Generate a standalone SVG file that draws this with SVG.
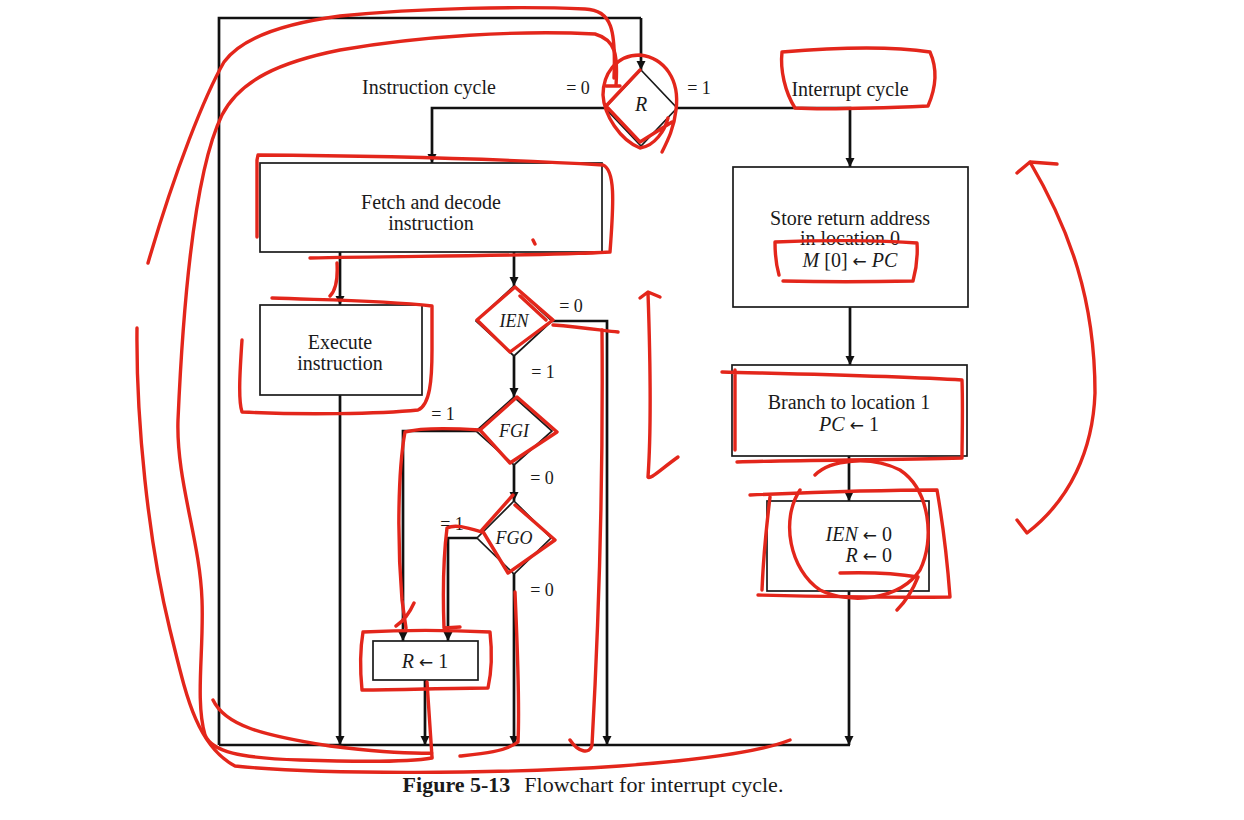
<svg xmlns="http://www.w3.org/2000/svg" width="1244" height="820" viewBox="0 0 1244 820">
<defs>
<marker id="ah" viewBox="0 0 10 10" refX="10" refY="5" markerWidth="9" markerHeight="10" markerUnits="userSpaceOnUse" orient="auto">
<path d="M0,0 L10,5 L0,10 Z" fill="#111"/>
</marker>
<style>
.t{font-family:"Liberation Serif","DejaVu Serif",serif;font-size:20px;fill:#1a1a1a;text-anchor:middle}
.s{font-size:18px}
.i{font-style:italic}
.a{font-family:"DejaVu Sans",sans-serif;font-size:17px}
.box{fill:none;stroke:#1a1a1a;stroke-width:1.7}
.ln{fill:none;stroke:#111;stroke-width:2.7}
.arr{fill:none;stroke:#111;stroke-width:2.7;marker-end:url(#ah)}
.ink{fill:none;stroke:#e3261b;stroke-width:3.4;stroke-linecap:round;stroke-linejoin:round}
</style>
</defs>
<rect width="1244" height="820" fill="#fff"/>

<g id="connectors">
<path class="ln" d="M219,745 L219,18 L641,18"/>
<path class="arr" d="M641,18 L641,70"/>
<path class="arr" d="M605,108 L432,108 L432,163"/>
<path class="arr" d="M677,108 L850,108 L850,167"/>
<path class="arr" d="M850,307 L850,365"/>
<path class="arr" d="M849,456 L849,501"/>
<path class="arr" d="M849,591 L849,745"/>
<path class="arr" d="M340,252 L340,305"/>
<path class="arr" d="M340,395 L340,745"/>
<path class="arr" d="M514,252 L514,286"/>
<path class="arr" d="M552,321 L607,321 L607,745"/>
<path class="arr" d="M514,356 L514,397"/>
<path class="arr" d="M476,431 L403,431 L403,641"/>
<path class="arr" d="M514,465 L514,501"/>
<path class="arr" d="M477,538 L448,538 L448,641"/>
<path class="arr" d="M514,573 L514,745"/>
<path class="arr" d="M425,680 L425,745"/>
<path class="ln" d="M219,745 L850,745"/>
<text class="t s" x="578" y="94">= 0</text>
<text class="t s" x="699" y="94">= 1</text>
<text class="t s" x="571" y="312">= 0</text>
<text class="t s" x="543" y="378">= 1</text>
<text class="t s" x="443" y="420">= 1</text>
<text class="t s" x="542" y="484">= 0</text>
<text class="t s" x="452" y="530">= 1</text>
<text class="t s" x="542" y="596">= 0</text>
</g>

<g id="label-instruction"><text class="t" x="429" y="94">Instruction cycle</text></g>
<g id="label-interrupt"><text class="t" x="850" y="96">Interrupt cycle</text></g>

<g id="node-R">
<path class="box" d="M641,70 L677,108 L641,146 L605,108 Z"/>
<text class="t i" x="641" y="111">R</text>
</g>

<g id="node-fetch">
<rect class="box" x="260" y="163" width="342" height="89"/>
<text class="t" x="431" y="209">Fetch and decode</text>
<text class="t" x="431" y="230">instruction</text>
</g>

<g id="node-execute">
<rect class="box" x="260" y="305" width="162" height="90"/>
<text class="t" x="340" y="349">Execute</text>
<text class="t" x="340" y="370">instruction</text>
</g>

<g id="node-IEN">
<path class="box" d="M514,286 L552,321 L514,356 L476,321 Z"/>
<text class="t i s" x="514" y="327">IEN</text>
</g>

<g id="node-FGI">
<path class="box" d="M514,397 L552,431 L514,465 L476,431 Z"/>
<text class="t i s" x="514" y="437">FGI</text>
</g>

<g id="node-FGO">
<path class="box" d="M514,501 L551,538 L514,574 L477,538 Z"/>
<text class="t i s" x="514" y="544">FGO</text>
</g>

<g id="node-R1">
<rect class="box" x="373" y="641" width="105" height="39"/>
<text class="t" x="425" y="668"><tspan class="i">R</tspan> <tspan class="a">←</tspan> 1</text>
</g>

<g id="node-store">
<rect class="box" x="733" y="167" width="235" height="140"/>
<text class="t" x="850" y="225">Store return address</text>
<text class="t" x="850" y="245">in location 0</text>
<text class="t" x="850" y="267"><tspan class="i">M</tspan> [0] <tspan class="a">←</tspan> <tspan class="i">PC</tspan></text>
</g>

<g id="node-branch">
<rect class="box" x="732" y="365" width="235" height="91"/>
<text class="t" x="849" y="409">Branch to location 1</text>
<text class="t" x="849" y="431"><tspan class="i">PC</tspan> <tspan class="a">←</tspan> 1</text>
</g>

<g id="node-clear">
<rect class="box" x="767" y="501" width="162" height="90"/>
<text class="t" x="892" y="541" style="text-anchor:end"><tspan class="i">IEN</tspan> <tspan class="a">←</tspan> 0</text>
<text class="t" x="892" y="562" style="text-anchor:end"><tspan class="i">R</tspan> <tspan class="a">←</tspan> 0</text>
</g>

<g id="caption">
<text class="t" x="593" y="792" style="font-size:22px"><tspan style="font-weight:bold">Figure 5-13</tspan><tspan dx="14">Flowchart for interrupt cycle.</tspan></text>
</g>

<g id="annotations">
<path class="ink" d="M614,78 C616,30 612,10 585,9 C520,6 420,8 340,16 C280,24 240,40 224,62 C205,95 175,170 148,263"/>
<path class="ink" d="M137,328 C136,420 148,540 170,630 C185,690 195,745 235,766 C320,775 500,774 620,766 C700,760 760,752 790,740"/>
<path class="ink" d="M606,86 L620,86 M616,86 C618,55 616,40 595,34 C520,30 420,36 340,50 C280,62 240,80 222,115 C200,160 185,260 178,420 C176,480 200,540 202,600 C204,650 195,700 205,735 C212,752 240,758 300,760 C360,762 410,762 432,758"/>
<path class="ink" d="M213,700 C225,725 260,735 330,746 C380,752 410,754 432,753 M427,682 L432,757"/>
<path class="ink" d="M515,592 C517,640 520,700 518,742 C505,752 480,754 460,756"/>
<path class="ink" d="M602,330 C603,450 600,600 592,745 C590,755 578,752 570,740"/>
<path class="ink" d="M1017,173 L1030,162 L1057,164 M1030,162 C1070,230 1095,300 1095,393 C1093,450 1070,500 1027,533 L1017,520"/>
<path class="ink" d="M640,298 L648,292 L660,297 M648,293 C650,350 652,420 648,477 C650,480 660,470 678,457"/>
<path class="ink" d="M640,70 L606,106 L640,142 L672,122 M662,152 C668,140 674,128 676,110 C680,80 665,58 640,55 C615,55 603,75 603,95 C604,115 620,140 640,148 C655,146 665,130 668,118"/>
<path class="ink" d="M782,52 C830,48 890,46 930,52 C938,70 935,90 928,106 C880,108 830,110 795,108 C785,92 780,70 782,52"/>
<path class="ink" d="M257,237 L257,160 L258,155 C400,156 520,160 603,165 C615,170 614,200 610,252 C550,256 400,256 310,258 M533,240 L535,244 M337,263 C338,280 336,290 330,296"/>
<path class="ink" d="M242,340 C240,370 238,400 242,412 C300,415 380,414 418,410 C430,405 432,380 432,350 L432,306 C380,300 320,300 272,298"/>
<path class="ink" d="M515,287 L477,320 L510,352 L553,320 Z M520,296 L546,320 M553,325 C580,327 600,330 618,332"/>
<path class="ink" d="M517,397 L557,432 L510,463 L480,430 Z M480,430 C450,428 420,428 405,432 C398,470 397,540 402,600 L406,628 M396,626 C405,620 410,612 414,603"/>
<path class="ink" d="M513,495 L482,530 L508,573 L555,540 L515,505 M482,532 C465,527 455,524 447,528 C443,560 443,600 444,628 L460,627"/>
<path class="ink" d="M363,632 C400,630 450,630 490,632 C492,650 492,670 488,688 C450,688 400,690 362,690 C360,670 360,650 363,632"/>
<path class="ink" d="M775,242 C820,240 880,240 917,243 C918,258 916,270 913,281 C870,282 820,282 783,281 M775,242 C775,255 777,268 779,275"/>
<path class="ink" d="M722,372 C800,374 900,376 962,380 C963,410 962,440 962,458 C890,460 800,460 737,462 M735,370 L735,450"/>
<path class="ink" d="M750,495 C820,492 890,490 937,490 C944,530 948,570 950,597 C880,598 800,596 758,595 M770,497 C766,530 763,565 762,590"/>
<path class="ink" d="M800,490 C780,520 790,570 820,590 C850,605 900,600 920,570 C935,540 930,490 900,470 C870,455 830,460 815,475 M840,573 C870,572 900,574 918,577 C912,592 905,602 897,610"/>
</g>
</svg>
